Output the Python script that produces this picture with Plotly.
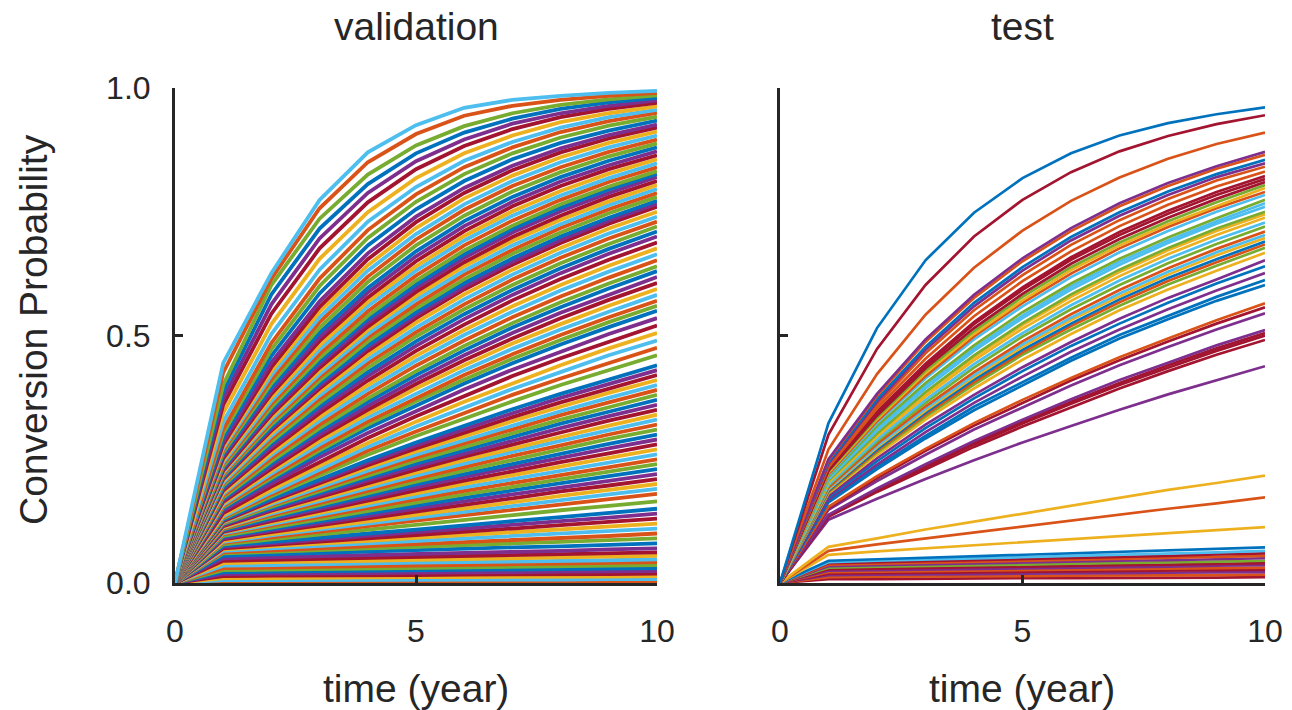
import plotly.graph_objects as go

YEARS = [0, 1, 2, 3, 4, 5, 6, 7, 8, 9, 10]

# conversion probability in per-mille, one row per subject (validation set)
VALIDATION = [
    [0,444,626,774,870,925,960,976,984,990,994],
    [0,425,615,757,850,907,944,964,976,984,990],
    [0,400,602,736,825,884,923,949,966,977,985],
    [0,387,583,716,806,868,910,938,958,971,980],
    [0,373,563,696,788,852,896,928,949,964,975],
    [0,360,544,676,769,836,883,917,941,958,970],
    [0,343,523,655,749,818,868,904,931,949,963],
    [0,325,503,633,730,800,853,891,920,941,956],
    [0,310,485,615,713,785,840,880,911,933,950],
    [0,302,472,600,697,770,826,868,900,924,942],
    [0,294,459,585,682,755,812,856,889,914,934],
    [0,286,446,569,666,740,798,843,878,905,926],
    [0,280,436,558,654,729,788,834,870,898,920],
    [0,276,428,548,642,717,777,823,860,889,912],
    [0,272,420,537,631,705,765,812,850,880,904],
    [0,268,411,527,619,694,754,802,840,871,896],
    [0,264,403,516,608,682,742,791,830,862,888],
    [0,260,395,506,596,670,731,780,820,853,880],
    [0,256,388,497,587,660,721,770,811,844,872],
    [0,252,382,489,577,650,711,761,802,836,864],
    [0,248,375,480,568,640,701,751,792,827,856],
    [0,244,368,472,559,631,692,742,783,818,848],
    [0,240,362,463,549,621,682,732,774,810,840],
    [0,236,355,455,540,611,672,722,765,801,832],
    [0,233,350,448,533,603,664,715,758,795,826],
    [0,230,345,442,526,596,657,708,751,788,820],
    [0,227,340,435,518,588,648,699,742,780,812],
    [0,225,335,429,511,580,640,691,734,771,804],
    [0,222,330,422,503,572,631,682,725,763,796],
    [0,219,325,416,496,563,623,673,717,755,788],
    [0,217,320,409,488,555,614,665,708,747,780],
    [0,214,315,403,480,547,606,656,700,738,772],
    [0,212,312,398,475,541,599,649,693,732,766],
    [0,210,308,393,469,535,593,643,687,726,760],
    [0,207,302,386,461,526,583,633,677,716,750],
    [0,203,297,379,452,516,573,623,667,706,740],
    [0,200,292,372,444,507,563,613,657,696,730],
    [0,197,286,364,435,498,553,602,646,685,720],
    [0,193,281,357,426,488,543,592,636,675,710],
    [0,190,275,350,418,479,533,582,626,665,700],
    [0,187,269,343,409,469,522,571,614,653,688],
    [0,183,263,335,400,459,511,559,602,641,676],
    [0,180,258,328,391,449,501,548,591,629,664],
    [0,176,252,320,382,439,490,537,579,617,652],
    [0,173,246,313,373,428,479,525,567,605,640],
    [0,170,241,307,366,420,470,516,557,595,630],
    [0,167,236,300,358,411,460,505,546,583,618],
    [0,164,231,294,350,402,450,494,535,572,606],
    [0,161,226,287,342,393,440,484,523,560,594],
    [0,158,221,280,334,383,430,473,512,548,582],
    [0,155,216,273,326,374,420,462,501,537,570],
    [0,153,212,268,320,367,411,453,491,527,560],
    [0,150,208,262,313,359,403,444,482,517,550],
    [0,146,201,254,303,348,391,431,468,503,535],
    [0,141,195,245,293,337,378,418,454,488,520],
    [0,137,188,237,283,326,366,404,440,474,505],
    [0,134,183,230,275,316,355,392,426,460,490],
    [0,132,179,224,267,306,344,380,413,445,475],
    [0,130,175,218,259,297,333,367,400,431,460],
    [0,128,170,210,248,284,318,351,382,412,440],
    [0,127,168,206,243,278,311,343,374,403,430],
    [0,125,165,202,238,272,304,335,365,393,420],
    [0,124,162,198,233,266,297,327,356,384,410],
    [0,123,159,194,227,259,289,319,347,374,400],
    [0,122,157,190,222,253,282,311,339,365,390],
    [0,120,154,186,217,247,275,303,330,355,380],
    [0,119,151,182,212,241,268,296,322,346,370],
    [0,117,148,178,207,235,261,288,313,337,360],
    [0,115,146,174,202,229,255,280,304,328,350],
    [0,113,143,170,197,223,248,272,295,318,340],
    [0,112,140,166,192,217,241,265,287,309,330],
    [0,110,137,162,187,211,234,257,278,300,320],
    [0,109,134,158,182,205,227,249,270,291,310],
    [0,107,131,154,177,199,220,241,261,281,300],
    [0,105,128,150,172,193,214,234,253,272,290],
    [0,103,125,146,167,187,207,226,244,262,280],
    [0,102,122,142,162,181,200,218,236,253,270],
    [0,100,119,138,157,175,193,210,227,243,260],
    [0,98,116,134,152,169,186,202,219,234,250],
    [0,95,112,129,146,163,179,194,210,225,240],
    [0,93,109,125,141,157,172,187,202,216,230],
    [0,90,106,121,136,150,165,179,193,206,220],
    [0,88,103,117,131,144,158,171,185,197,210],
    [0,85,99,112,125,138,151,163,176,188,200],
    [0,83,96,108,120,132,144,156,168,179,190],
    [0,81,92,104,115,126,137,148,159,170,180],
    [0,78,88,98,108,118,128,137,147,156,165],
    [0,75,83,92,100,108,117,125,133,142,150],
    [0,73,80,88,95,103,110,118,125,132,140],
    [0,70,77,83,90,97,103,110,117,123,130],
    [0,68,74,79,85,91,97,102,108,114,120],
    [0,65,70,75,80,85,90,95,100,105,110],
    [0,62,66,70,74,78,82,86,90,95,100],
    [0,60,63,67,70,73,77,80,83,87,90],
    [0,55,58,61,63,66,69,72,74,77,80],
    [0,50,52,54,57,59,61,63,65,68,70],
    [0,45,47,49,51,53,55,56,58,60,62],
    [0,40,42,43,45,47,48,50,52,53,55],
    [0,35,36,38,39,41,42,43,45,46,48],
    [0,30,31,33,34,35,37,38,39,41,42],
    [0,26,27,28,29,30,31,32,33,34,36],
    [0,22,23,24,25,26,26,27,28,29,30],
    [0,18,19,19,20,21,21,22,23,23,24],
    [0,14,15,15,16,16,17,17,18,18,19],
    [0,10,10,11,11,12,12,12,13,13,14],
    [0,6,6,6,7,7,7,7,7,8,8],
    [0,3,3,3,3,3,3,4,4,4,4],
]

# conversion probability in per-mille (test set)
TEST = [
    [0,323,515,652,748,818,868,904,929,947,961],
    [0,300,473,602,700,774,830,872,903,927,945],
    [0,270,422,542,637,712,772,819,857,887,910],
    [0,250,382,492,582,656,717,767,808,842,871],
    [0,248,378,487,576,650,711,761,802,837,865],
    [0,244,371,477,566,638,699,749,791,826,855],
    [0,241,366,471,559,631,692,742,784,820,848],
    [0,238,360,464,551,622,683,733,776,813,841],
    [0,234,353,453,539,610,670,721,764,801,831],
    [0,230,346,443,527,597,658,709,752,790,822],
    [0,229,343,439,523,592,653,703,746,784,816],
    [0,227,338,434,515,584,645,695,738,776,810],
    [0,225,334,429,509,578,638,688,731,769,804],
    [0,223,331,424,503,571,632,682,725,762,798],
    [0,220,327,418,498,566,625,676,719,757,790],
    [0,218,323,413,492,559,618,668,711,750,784],
    [0,215,317,404,480,547,605,655,698,737,774],
    [0,212,312,399,474,540,599,649,692,731,767],
    [0,210,308,393,469,535,593,643,687,726,760],
    [0,207,302,386,460,525,583,633,677,716,750],
    [0,205,300,382,456,521,578,628,672,711,745],
    [0,203,296,377,450,514,570,620,664,703,738],
    [0,199,290,370,442,505,561,611,655,694,728],
    [0,197,286,364,435,498,553,602,646,685,720],
    [0,193,281,357,426,488,543,592,636,675,710],
    [0,191,277,352,420,482,536,585,629,668,703],
    [0,189,274,348,416,477,531,579,623,662,697],
    [0,187,270,344,411,471,524,573,616,654,690],
    [0,185,267,340,406,466,519,567,610,648,684],
    [0,183,264,336,401,461,512,560,603,641,677],
    [0,181,259,330,393,451,503,551,593,631,667],
    [0,176,252,320,380,436,487,534,576,613,652],
    [0,173,246,313,373,428,479,524,566,605,640],
    [0,169,239,305,364,417,467,512,553,591,626],
    [0,166,234,297,356,406,455,501,540,578,612],
    [0,163,230,292,349,399,449,494,533,570,602],
    [0,154,216,271,323,370,414,456,494,531,565],
    [0,152,212,267,318,364,409,450,488,524,557],
    [0,148,206,259,310,355,399,440,477,512,545],
    [0,138,191,240,287,330,371,410,445,480,511],
    [0,137,188,237,283,326,366,404,440,474,505],
    [0,135,186,234,280,322,362,400,435,469,500],
    [0,134,184,230,275,316,355,393,428,461,491],
    [0,128,170,210,248,284,317,350,381,410,438],
    [0,73,90,108,124,140,156,172,188,202,217],
    [0,65,78,90,102,115,126,138,150,161,173],
    [0,57,64,70,77,83,89,95,101,107,113],
    [0,45,48,51,54,57,60,63,66,69,72],
    [0,42,45,47,50,52,55,57,60,62,65],
    [0,40,42,44,47,49,51,53,55,58,60],
    [0,37,39,41,43,45,47,49,51,53,55],
    [0,34,36,38,39,41,43,45,46,48,50],
    [0,31,33,34,36,37,39,40,42,43,45],
    [0,28,29,31,32,33,35,36,37,39,40],
    [0,25,26,27,29,30,31,32,33,35,36],
    [0,22,23,24,25,26,27,28,29,30,31],
    [0,19,20,21,22,23,23,24,25,26,27],
    [0,16,17,17,18,19,19,20,21,21,22],
    [0,12,13,13,14,14,15,15,16,16,17],
    [0,8,8,9,9,10,10,10,11,11,12],
]

TEST_COLORS = [
    "blue", "darkred", "orange", "purple", "orange", "blue", "purple", "orange",
    "orange", "darkred", "darkred", "darkred", "green", "yellow", "orange",
    "lightblue", "green", "lightblue", "lightblue", "green", "yellow", "yellow",
    "lightblue", "green", "orange", "lightblue", "yellow", "blue", "orange",
    "green", "yellow", "purple", "blue", "purple", "blue", "blue", "orange",
    "darkred", "purple", "purple", "darkred", "darkred", "darkred", "purple",
    "yellow", "orange", "yellow", "blue", "lightblue", "darkred", "orange",
    "purple", "green", "darkred", "purple", "orange", "darkred", "purple",
    "orange", "darkred",
]

Y_TICKS = [0, 0.5, 1.0]
Y_TICK_LABELS = ["0.0", "0.5", "1.0"]
X_TICKS = [0, 5, 10]
X_TICK_LABELS = ["0", "5", "10"]

PALETTE = {
    "blue": "#0072BD", "orange": "#D95319", "yellow": "#EDB120",
    "purple": "#7E2F8E", "green": "#77AC30", "lightblue": "#4DBEEE",
    "darkred": "#A2142F",
}
CYCLE = ["blue", "orange", "yellow", "purple", "green", "lightblue", "darkred"]

W, H = 1292, 710
FONT = "Liberation Sans, Arial, Helvetica, sans-serif"
TXT = "#262626"

fig = go.Figure()

n = len(VALIDATION)
for i in range(n - 1, -1, -1):
    row = VALIDATION[i]
    col = PALETTE[CYCLE[(i * 3 + 5) % 7]]
    fig.add_trace(go.Scatter(
        x=YEARS, y=[v / 1000 for v in row], mode="lines",
        line=dict(color=col, width=3.8), xaxis="x", yaxis="y",
        showlegend=False, hoverinfo="skip"))

for i in range(len(TEST) - 1, -1, -1):
    row = TEST[i]
    fig.add_trace(go.Scatter(
        x=YEARS, y=[v / 1000 for v in row], mode="lines",
        line=dict(color=PALETTE[TEST_COLORS[i]], width=2.7), xaxis="x2", yaxis="y2",
        showlegend=False, hoverinfo="skip"))

x1 = [175 / W, 657 / W]
x2 = [780 / W, 1265 / W]
yd = [(H - 583) / H, (H - 88) / H]

axis_common = dict(
    showgrid=False, zeroline=False, showline=True, linecolor=TXT, linewidth=3,
    ticks="inside", ticklen=8, tickwidth=3, tickcolor=TXT, automargin=False,
    tickfont=dict(family=FONT, size=32, color=TXT),
)

fig.update_layout(
    width=W, height=H, paper_bgcolor="white", plot_bgcolor="white",
    margin=dict(l=0, r=0, t=0, b=0, autoexpand=False),
    xaxis=dict(domain=x1, range=[0, 10], tickvals=X_TICKS, ticktext=X_TICK_LABELS,
               anchor="y", ticklabelstandoff=18, **axis_common),
    yaxis=dict(domain=yd, range=[0, 1], tickvals=Y_TICKS, ticktext=Y_TICK_LABELS,
               anchor="x", ticklabelstandoff=15, **axis_common),
    xaxis2=dict(domain=x2, range=[0, 10], tickvals=X_TICKS, ticktext=X_TICK_LABELS,
                anchor="y2", ticklabelstandoff=18, **axis_common),
    yaxis2=dict(domain=yd, range=[0, 1], tickvals=Y_TICKS, ticktext=Y_TICK_LABELS,
                anchor="x2", showticklabels=False, **axis_common),
)

ann_font = dict(family=FONT, size=39, color=TXT)
anns = [
    dict(text="validation", x=(x1[0] + x1[1]) / 2, y=1 - 27 / H),
    dict(text="test", x=(x2[0] + x2[1]) / 2, y=1 - 27 / H),
    dict(text="time (year)", x=(x1[0] + x1[1]) / 2, y=1 - 688 / H),
    dict(text="time (year)", x=(x2[0] + x2[1]) / 2, y=1 - 688 / H),
]
for a in anns:
    fig.add_annotation(xref="paper", yref="paper", showarrow=False,
                       xanchor="center", yanchor="middle", font=ann_font, **a)
fig.add_annotation(text="Conversion Probability", xref="paper", yref="paper",
                   x=33 / W, y=1 - 330 / H, textangle=-90, showarrow=False,
                   xanchor="center", yanchor="middle", font=ann_font)

fig.write_html(
    "out.html",
    config={"displayModeBar": False},
    post_script="document.body.style.margin='0';document.body.style.overflow='hidden';",
)
